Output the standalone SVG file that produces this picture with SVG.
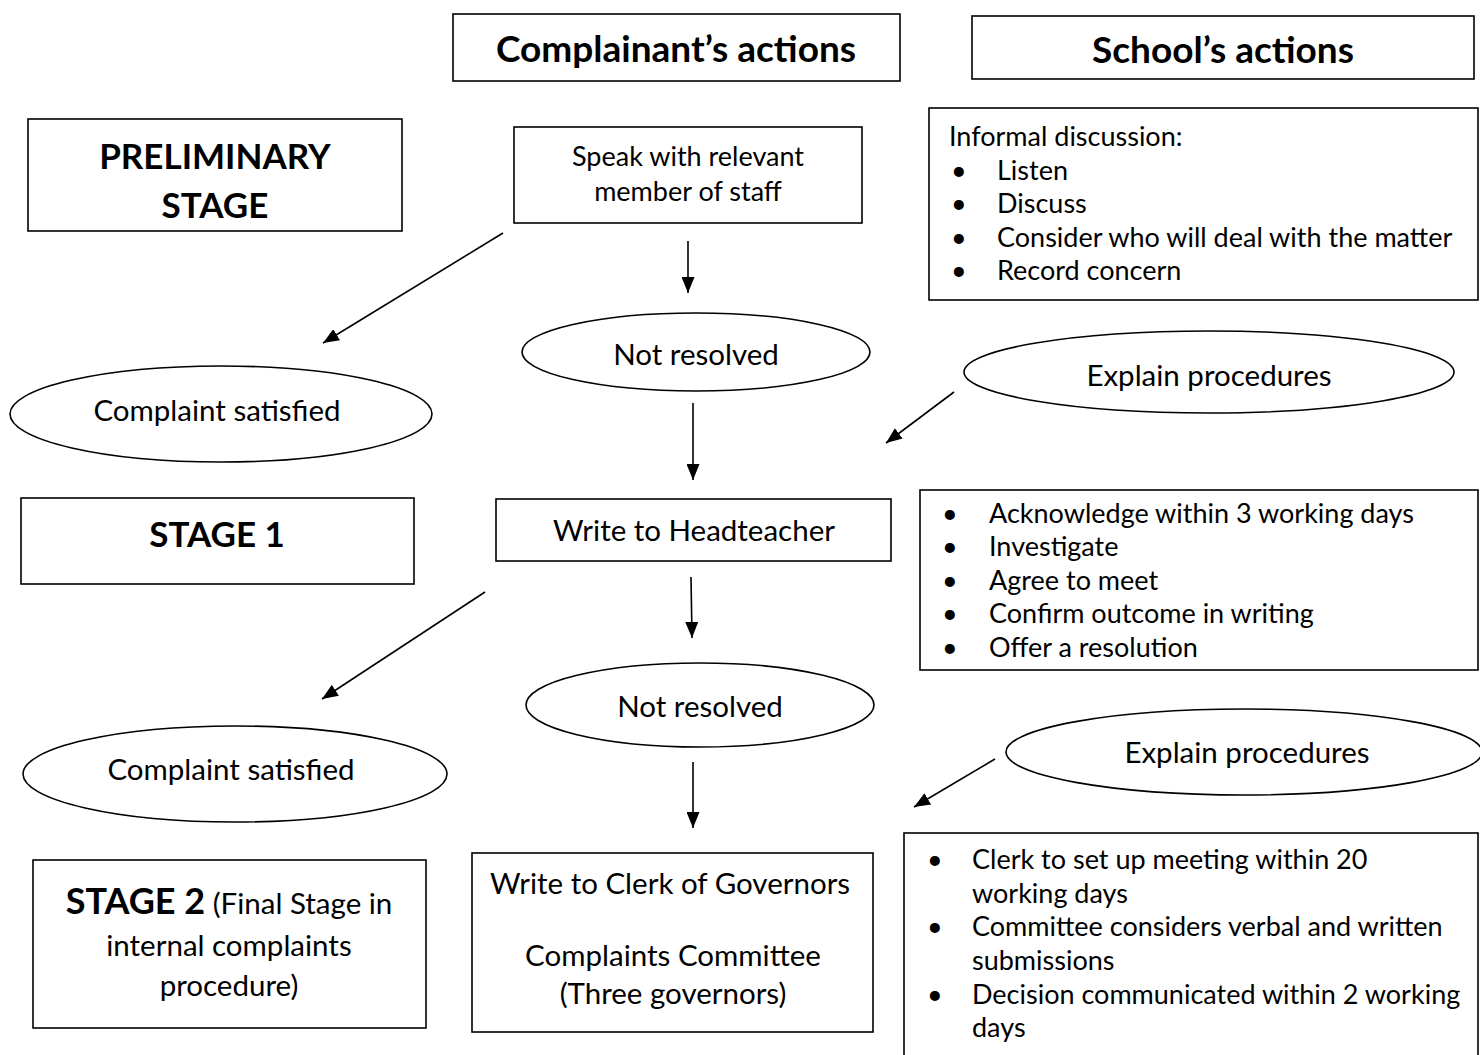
<svg xmlns="http://www.w3.org/2000/svg" width="1480" height="1055" viewBox="0 0 1480 1055">
<defs>
<marker id="ahb" viewBox="0 0 16 13" refX="16" refY="6.5" markerWidth="16" markerHeight="13" markerUnits="userSpaceOnUse" orient="auto">
<path d="M0,0 L16,6.5 L0,13 z" fill="#000"/>
</marker>
</defs>
<style>
.box{fill:#fff;stroke:#000;stroke-width:1.6}
.ell{fill:#fff;stroke:#000;stroke-width:1.6}
.t{font-family:Lato,"Liberation Sans",sans-serif;fill:#000}
.c{text-anchor:middle}
.b{font-weight:bold}
.h{font-size:37px}
.m{font-size:29.5px}
.s{font-size:27px}
.con{stroke:#000;stroke-width:1.6;fill:none;marker-end:url(#ahb)}
</style>
<rect width="1480" height="1055" fill="#fff"/>

<g id="hdr-complainant">
<rect class="box" x="453" y="14" width="447" height="67"/>
<text class="t c b h" x="676" y="62">Complainant’s actions</text>
</g>
<g id="hdr-school">
<rect class="box" x="972" y="16" width="502" height="63"/>
<text class="t c b h" x="1223" y="63">School’s actions</text>
</g>

<g id="preliminary">
<rect class="box" x="28" y="119" width="374" height="112"/>
<text class="t c b" font-size="35" x="215" y="169">PRELIMINARY</text>
<text class="t c b" font-size="35" x="215" y="218">STAGE</text>
</g>

<g id="speak">
<rect class="box" x="514" y="127" width="348" height="96"/>
<text class="t c" font-size="27" x="688" y="166">Speak with relevant</text>
<text class="t c" font-size="27" x="688" y="201">member of staff</text>
</g>

<g id="informal">
<rect class="box" x="929" y="108" width="549" height="192"/>
<text class="t s" x="949" y="146">Informal discussion:</text>
<g class="t s">
<text x="951" y="180">•</text><text x="997" y="180">Listen</text>
<text x="951" y="213">•</text><text x="997" y="213">Discuss</text>
<text x="951" y="247">•</text><text x="997" y="247">Consider who will deal with the matter</text>
<text x="951" y="280">•</text><text x="997" y="280">Record concern</text>
</g>
</g>

<g id="notresolved1">
<ellipse class="ell" cx="696" cy="352" rx="174" ry="39"/>
<text class="t c m" x="696" y="365">Not resolved</text>
</g>

<g id="explain1">
<ellipse class="ell" cx="1209" cy="372" rx="245" ry="41"/>
<text class="t c m" x="1209" y="386">Explain procedures</text>
</g>

<g id="satisfied1">
<ellipse class="ell" cx="221" cy="414" rx="211" ry="48"/>
<text class="t c m" x="217" y="421">Complaint satisfied</text>
</g>

<g id="stage1">
<rect class="box" x="21" y="498" width="393" height="86"/>
<text class="t c b" font-size="35" x="217" y="547">STAGE 1</text>
</g>

<g id="headteacher">
<rect class="box" x="496" y="499" width="395" height="62"/>
<text class="t c m" x="694" y="541">Write to Headteacher</text>
</g>

<g id="stage1-actions">
<rect class="box" x="920" y="490" width="558" height="180"/>
<g class="t s">
<text x="942" y="523">•</text><text x="989" y="523">Acknowledge within 3 working days</text>
<text x="942" y="556">•</text><text x="989" y="556">Investigate</text>
<text x="942" y="590">•</text><text x="989" y="590">Agree to meet</text>
<text x="942" y="623">•</text><text x="989" y="623">Confirm outcome in writing</text>
<text x="942" y="657">•</text><text x="989" y="657">Offer a resolution</text>
</g>
</g>

<g id="notresolved2">
<ellipse class="ell" cx="700" cy="705" rx="174" ry="42"/>
<text class="t c m" x="700" y="717">Not resolved</text>
</g>

<g id="satisfied2">
<ellipse class="ell" cx="235" cy="774" rx="212" ry="48"/>
<text class="t c m" x="231" y="780">Complaint satisfied</text>
</g>

<g id="explain2">
<ellipse class="ell" cx="1244" cy="752" rx="238" ry="43"/>
<text class="t c m" x="1247" y="763">Explain procedures</text>
</g>

<g id="stage2">
<rect class="box" x="33" y="860" width="393" height="168"/>
<text class="t c m" x="229" y="914"><tspan class="b" font-size="36">STAGE 2</tspan> (Final Stage in</text>
<text class="t c m" x="229" y="956">internal complaints</text>
<text class="t c m" x="229" y="996">procedure)</text>
</g>

<g id="clerk">
<rect class="box" x="472" y="853" width="401" height="179"/>
<text class="t c m" x="670" y="894">Write to Clerk of Governors</text>
<text class="t c m" x="673" y="966">Complaints Committee</text>
<text class="t c m" x="673" y="1004">(Three governors)</text>
</g>

<g id="stage2-actions">
<rect class="box" x="904" y="833" width="574" height="240"/>
<g class="t s">
<text x="927" y="869">•</text><text x="972" y="869">Clerk to set up meeting within 20</text>
<text x="972" y="903">working days</text>
<text x="927" y="936">•</text><text x="972" y="936">Committee considers verbal and written</text>
<text x="972" y="970">submissions</text>
<text x="927" y="1004">•</text><text x="972" y="1004">Decision communicated within 2 working</text>
<text x="972" y="1037">days</text>
</g>
</g>

<g id="connectors">
<line class="con" x1="688" y1="241" x2="688" y2="293"/>
<line class="con" x1="503" y1="233" x2="323" y2="343"/>
<line class="con" x1="693" y1="403" x2="693" y2="480"/>
<line class="con" x1="954" y1="392" x2="886" y2="443"/>
<line class="con" x1="691" y1="577" x2="692" y2="638"/>
<line class="con" x1="485" y1="592" x2="322" y2="699"/>
<line class="con" x1="693" y1="762" x2="693" y2="828"/>
<line class="con" x1="995" y1="759" x2="914" y2="807"/>
</g>
</svg>
